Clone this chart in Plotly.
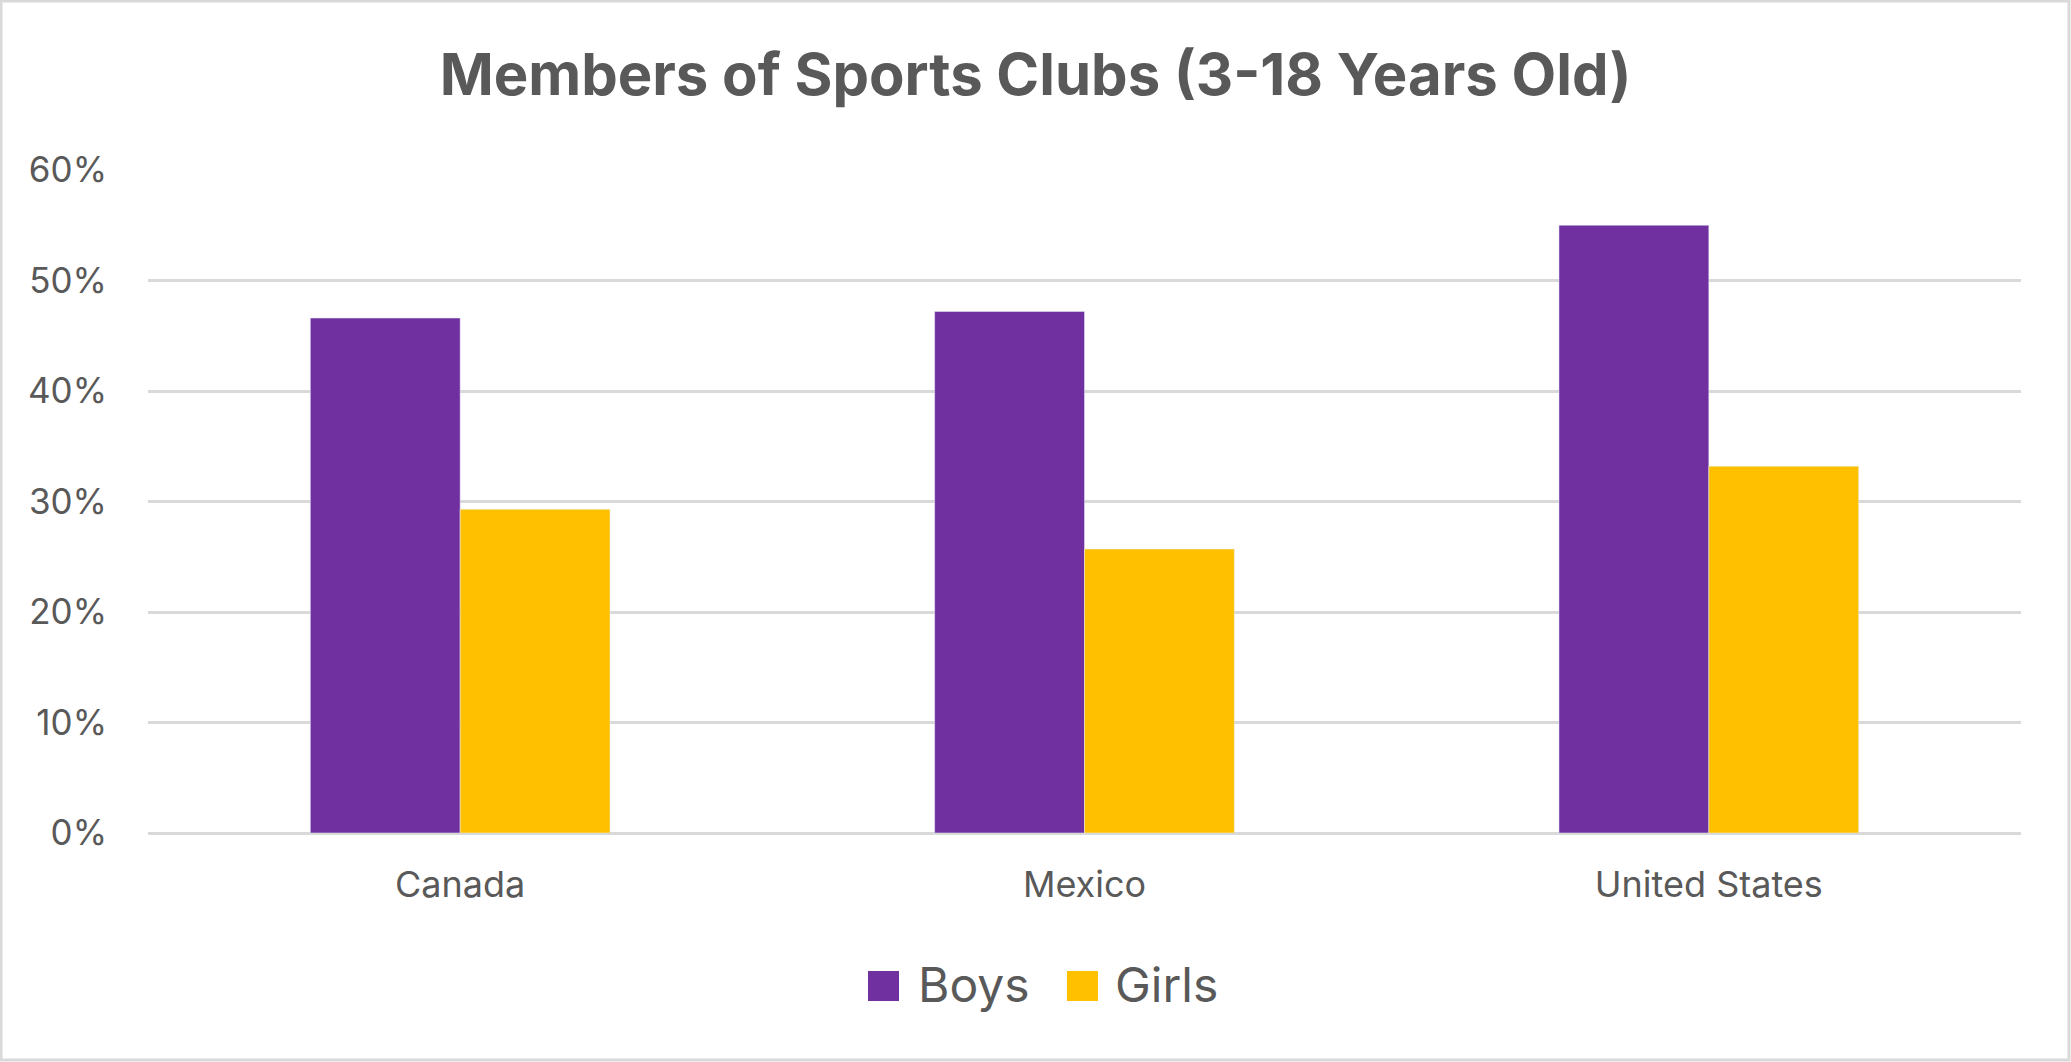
import plotly.graph_objects as go

# data
countries = ['Canada', 'Mexico', 'United States']
boys = [0.466, 0.472, 0.550]
girls = [0.293, 0.257, 0.332]
y_ticks = [0, 0.1, 0.2, 0.3, 0.4, 0.5, 0.6]

PURPLE = '#7030A0'
GOLD = '#FFC000'
TEXT = '#595959'
GRID = '#D9D9D9'
FONT = 'Inter'

W, H = 2071, 1062
L, R, T, B = 148, 50, 170, 229
PW, PH = W - L - R, H - T - B


def px_x(x):
    return (x - L) / PW


def px_y(y):
    return (H - B - y) / PH


fig = go.Figure()
fig.add_trace(go.Bar(x=countries, y=boys, name='Boys', marker_color=PURPLE))
fig.add_trace(go.Bar(x=countries, y=girls, name='Girls', marker_color=GOLD))

fig.update_layout(
    width=W, height=H,
    margin=dict(l=L, r=R, t=T, b=B, pad=0),
    paper_bgcolor='white', plot_bgcolor='white',
    barmode='group', bargap=0.52, bargroupgap=0,
    showlegend=False,
    font=dict(family=FONT, color=TEXT),
    title=dict(text='<b>Members of Sports Clubs (3-18 Years Old)</b>',
               x=0.5, xanchor='center', xref='container',
               y=1 - 75 / H, yanchor='middle',
               font=dict(size=58, color=TEXT, family=FONT)),
)
fig.update_yaxes(range=[0, 0.6], tickvals=y_ticks, tickformat='.0%',
                 showgrid=True, gridcolor=GRID, gridwidth=2.5,
                 zeroline=True, zerolinecolor=GRID, zerolinewidth=2.5,
                 showline=False, ticks='', ticklabelstandoff=40,
                 tickfont=dict(size=35, color=TEXT))
fig.update_xaxes(showgrid=False, showline=False, ticks='',
                 ticklabelstandoff=27,
                 tickfont=dict(size=36, color=TEXT))

# hand-made legend with larger swatches, like the original
legend_items = [('Boys', PURPLE, 868, 916), ('Girls', GOLD, 1067, 1113)]
for name, color, sx, tx in legend_items:
    fig.add_shape(type='rect', xref='paper', yref='paper',
                  x0=px_x(sx), x1=px_x(sx + 31), y0=px_y(1001), y1=px_y(971),
                  fillcolor=color, line_width=0)
    fig.add_annotation(text=name, xref='paper', yref='paper',
                       x=px_x(tx), y=px_y(984), xanchor='left', yanchor='middle',
                       showarrow=False, font=dict(size=48, color=TEXT))

# light grey chart border
fig.add_shape(type='rect', xref='paper', yref='paper',
              x0=px_x(1), x1=px_x(W - 2), y0=px_y(H - 2), y1=px_y(1),
              line=dict(color=GRID, width=3), fillcolor='rgba(0,0,0,0)')

fig.write_html('out.html', config={'displayModeBar': False},
               post_script="document.body.style.margin='0';")
